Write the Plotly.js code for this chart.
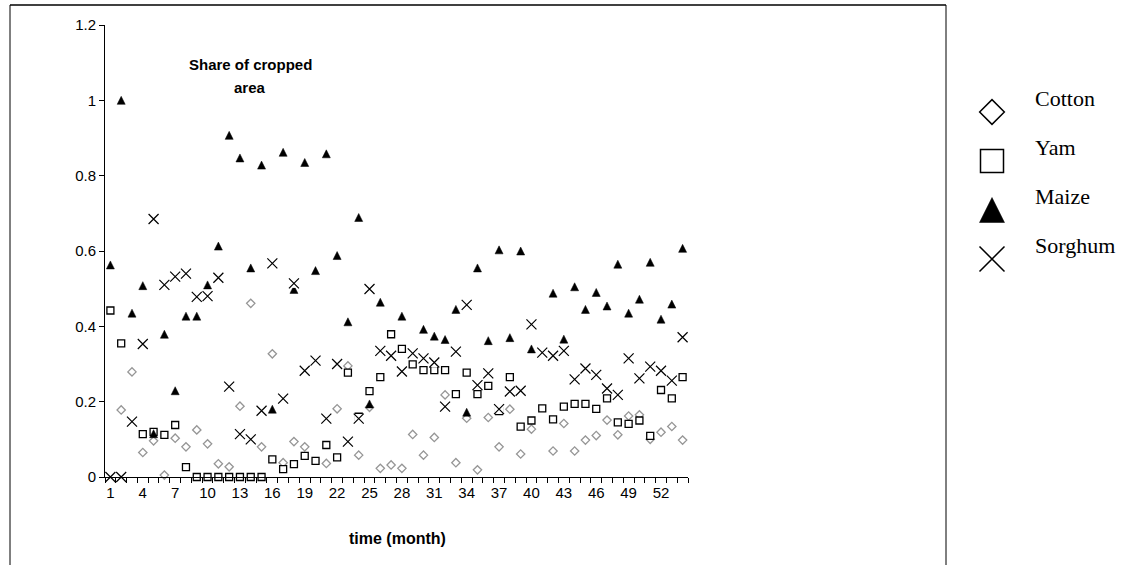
<!DOCTYPE html>
<html>
<head>
<meta charset="utf-8">
<script src="https://cdn.plot.ly/plotly-3.0.1.min.js"></script>
<style>html,body{margin:0;padding:0;background:#fff;}#chart{width:1130px;height:565px;}</style>
</head>
<body>
<div id="chart"></div>
<script>
// ---- data ----
const months = [1,2,3,4,5,6,7,8,9,10,11,12,13,14,15,16,17,18,19,20,21,22,23,24,25,26,27,28,29,30,31,32,33,34,35,36,37,38,39,40,41,42,43,44,45,46,47,48,49,50,51,52,53,54];
const monthTicks = [1,4,7,10,13,16,19,22,25,28,31,34,37,40,43,46,49,52];
const seriesNames = ['Cotton','Yam','Maize','Sorghum'];

const cotton = [null,0.178,0.279,0.065,0.096,0.005,0.103,0.08,0.125,0.088,0.035,0.027,0.188,0.461,0.08,0.327,0.038,0.094,0.08,null,0.036,0.181,0.295,0.058,0.185,0.023,0.032,0.023,0.113,0.058,0.105,0.218,0.038,0.156,0.019,0.158,0.08,0.18,0.061,0.127,null,0.069,0.142,0.069,0.098,0.11,0.151,0.112,0.162,0.165,0.1,0.119,0.134,0.098];
const yam = [0.442,0.355,null,0.114,0.12,0.112,0.138,0.026,0,0,0,0,0,0,0,0.047,0.021,0.034,0.056,0.043,0.085,0.052,0.277,0.16,0.228,0.265,0.379,0.34,0.299,0.284,0.284,0.284,0.22,0.277,0.22,0.242,0.175,0.265,0.134,0.15,0.182,0.153,0.187,0.194,0.194,0.181,0.209,0.145,0.141,0.15,0.109,0.231,0.209,0.265];
const maize = [0.563,1.0,0.435,0.508,0.115,0.379,0.229,0.427,0.427,0.51,0.613,0.907,0.847,0.555,0.828,0.18,0.862,0.498,0.835,0.548,0.858,0.588,0.412,0.689,0.194,0.464,null,0.427,null,0.392,0.374,0.365,0.445,0.172,0.555,0.362,0.603,0.37,0.6,0.34,null,0.488,0.366,0.505,0.445,0.49,0.454,0.565,0.435,0.472,0.57,0.419,0.459,0.607];
const sorghum = [0,0,0.147,0.353,0.685,0.51,0.532,0.54,0.478,0.48,0.529,0.24,0.114,0.1,0.176,0.567,0.208,0.514,0.282,0.309,0.155,0.3,0.094,0.155,0.499,0.335,0.322,0.28,0.328,0.315,0.304,0.187,0.333,0.457,0.244,0.275,0.18,0.227,0.229,0.405,0.33,0.322,0.335,0.259,0.288,0.271,0.235,0.218,0.315,0.262,0.293,0.282,0.256,0.371];

// ---- styles ----
const W = 1130, H = 565;
const px = v => v / W, py = v => (H - v) / H;
const sansFont = 'Liberation Sans, Arial, sans-serif';
const narrowFont = 'Liberation Sans Narrow, Arial Narrow, Liberation Sans, sans-serif';
const serifFont = 'Liberation Serif, Times New Roman, serif';

const markerStyles = {
  Cotton:  {symbol:'diamond', size:6.4, color:'#ffffff', line:{color:'#969696', width:1.3}},
  Yam:     {symbol:'square', size:7, color:'#ffffff', line:{color:'#000000', width:1.3}},
  Maize:   {symbol:'arrow-down', angle:180, size:8, standoff:4, color:'#000000', line:{color:'#000000', width:0.5}},
  Sorghum: {symbol:'x-thin', size:10, color:'#000000', line:{color:'#000000', width:1.2}}
};
const legendStyles = {
  Cotton:  {symbol:'diamond', size:19, color:'#ffffff', line:{color:'#000000', width:1.5}},
  Yam:     {symbol:'square', size:23, color:'#ffffff', line:{color:'#000000', width:1.5}},
  Maize:   {symbol:'arrow-down', angle:180, size:25, standoff:12.5, color:'#000000', line:{color:'#000000', width:0.5}},
  Sorghum: {symbol:'x-thin', size:25, color:'#000000', line:{color:'#000000', width:1.5}}
};

const valuesByName = {Cotton: cotton, Yam: yam, Maize: maize, Sorghum: sorghum};

const traces = [];
seriesNames.forEach(name => {
  if (name === 'Sorghum') {
    // Excel draws the X marker on a white box that hides what lies beneath
    traces.push({type:'scatter', mode:'markers', x:months, y:sorghum, cliponaxis:false,
      hoverinfo:'skip', showlegend:false,
      marker:{symbol:'square', size:9, color:'#ffffff', line:{width:0}}});
  }
  traces.push({type:'scatter', mode:'markers', name:name, x:months, y:valuesByName[name],
    cliponaxis:false, showlegend:false, marker:markerStyles[name]});
});
// custom legend keys
seriesNames.forEach(name => {
  traces.push({type:'scatter', mode:'markers', x:[0], y:[name], xaxis:'x2', yaxis:'y2',
    cliponaxis:false, hoverinfo:'skip', showlegend:false, marker:legendStyles[name]});
});

const annotations = [
  {xref:'paper', yref:'paper', x:px(250), y:py(65), text:'<b>Share of cropped</b>', showarrow:false,
   font:{family:sansFont, size:15, color:'#000'}, xanchor:'center', yanchor:'middle'},
  {xref:'paper', yref:'paper', x:px(250), y:py(87), text:'<b>area</b>', showarrow:false,
   font:{family:sansFont, size:15, color:'#000'}, xanchor:'center', yanchor:'middle'},
  {xref:'paper', yref:'paper', x:px(397), y:py(538), text:'<b>time (month)</b>', showarrow:false,
   font:{family:sansFont, size:16, color:'#000'}, xanchor:'center', yanchor:'middle'}
];
seriesNames.forEach(name => {
  annotations.push({xref:'x2', yref:'y2', x:0, y:name, text:name, showarrow:false,
    xanchor:'left', yanchor:'middle', xshift:41, yshift:14,
    font:{family:serifFont, size:22, color:'#000'}});
});

const layout = {
  width:W, height:H,
  margin:{l:0, r:0, t:0, b:0, pad:0},
  paper_bgcolor:'#ffffff', plot_bgcolor:'#ffffff',
  showlegend:false,
  xaxis:{
    domain:[px(105), px(688)], range:[0.5, 54.5], type:'linear',
    tickmode:'array', tickvals:monthTicks, ticktext:monthTicks.map(String),
    ticks:'', ticklabelstandoff:2,
    showline:true, linecolor:'#000', linewidth:1, showgrid:false, zeroline:false,
    tickfont:{family:narrowFont, size:15, color:'#000'},
    minor:{tick0:0.5, dtick:1, ticks:'outside', ticklen:5, tickcolor:'#000', tickwidth:1, showgrid:false},
    fixedrange:true
  },
  yaxis:{
    domain:[py(477), py(25)], range:[0, 1.2], tickmode:'linear', tick0:0, dtick:0.2,
    ticks:'outside', ticklen:5, tickcolor:'#000', tickwidth:1,
    showline:true, linecolor:'#000', linewidth:1, showgrid:false, zeroline:false,
    tickfont:{family:narrowFont, size:15, color:'#000'},
    fixedrange:true
  },
  xaxis2:{domain:[px(962), px(1022)], range:[-1, 1], visible:false, anchor:'y2', fixedrange:true},
  yaxis2:{domain:[py(283.5), py(87.5)], type:'category', categoryorder:'array',
    categoryarray:seriesNames.slice().reverse(), range:[-0.5, 3.5], visible:false, anchor:'x2', fixedrange:true},
  annotations:annotations,
  shapes:[
    {type:'line', xref:'paper', yref:'paper', x0:px(10), x1:px(946), y0:py(5), y1:py(5), line:{color:'#404040', width:2}},
    {type:'line', xref:'paper', yref:'paper', x0:px(10), x1:px(10), y0:py(5), y1:py(566), line:{color:'#000', width:1}},
    {type:'line', xref:'paper', yref:'paper', x0:px(946), x1:px(946), y0:py(5), y1:py(566), line:{color:'#000', width:1}}
  ]
};

Plotly.newPlot('chart', traces, layout, {staticPlot:true, displayModeBar:false});
</script>
</body>
</html>
